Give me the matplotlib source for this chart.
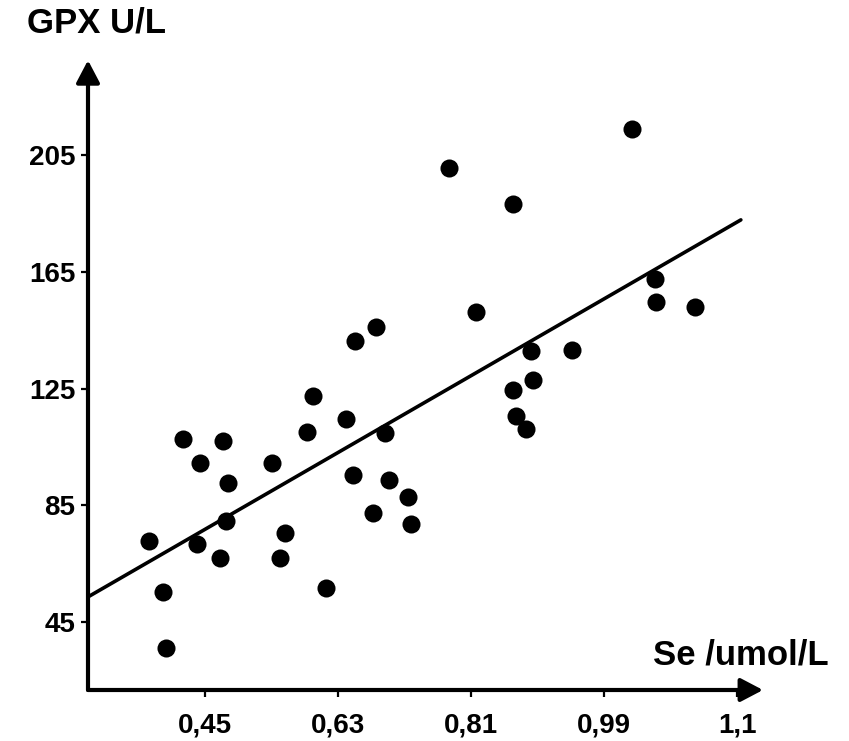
import numpy as np
import matplotlib.pyplot as plt

plt.rcParams['font.family'] = ['Liberation Sans', 'DejaVu Sans']
plt.rcParams['font.weight'] = 'bold'

# Se (umol/L) and GPX (U/L)
se = [0.373, 0.393, 0.397, 0.419, 0.442, 0.474, 0.480, 0.478, 0.438, 0.470,
      0.540, 0.558, 0.551, 0.613, 0.596, 0.588, 0.641, 0.693, 0.650, 0.699,
      0.724, 0.677, 0.729, 0.780, 0.867, 1.028, 0.816, 0.681, 0.653, 1.059,
      1.060, 1.113, 0.891, 0.946, 0.894, 0.867, 0.871, 0.884]
gpx = [72.8, 55.3, 36.1, 107.7, 99.5, 107.0, 92.7, 79.6, 71.8, 67.0,
       99.5, 75.5, 67.0, 56.7, 122.5, 110.1, 114.6, 109.8, 95.4, 93.7,
       87.9, 82.4, 78.6, 200.6, 188.2, 213.9, 151.2, 146.1, 141.3, 162.5,
       154.7, 153.0, 137.9, 138.2, 127.9, 124.5, 115.6, 111.2]

# regression line
fit_x = [0.291, 1.175]
fit_y = [53.6, 182.8]

x_ticks = [0.45, 0.63, 0.81, 0.99, 1.17]
x_labels = ['0,45', '0,63', '0,81', '0,99', '1,1']
y_ticks = [45, 85, 125, 165, 205]

x0, y0 = 0.291, 21.7

fig = plt.figure(figsize=(8.49, 7.41), dpi=100)
ax = fig.add_axes([88 / 849, 1 - 690 / 741, (780 - 88) / 849, (690 - 55) / 741])
ax.set_xlim(x0, 1.228)
ax.set_ylim(y0, 239.3)

ax.plot(se, gpx, 'o', color='black', markersize=13, markeredgewidth=0)
ax.plot(fit_x, fit_y, color='black', lw=2.6, solid_capstyle='round')

for s in ax.spines.values():
    s.set_visible(False)

# axes with arrow heads
arrow = dict(arrowstyle='-|>,head_length=0.8,head_width=0.42', lw=3, color='black',
             shrinkA=0, shrinkB=0, mutation_scale=17)
ax.annotate('', xy=(1.205, y0), xytext=(x0, y0), arrowprops=arrow, annotation_clip=False)
ax.annotate('', xy=(x0, 237.5), xytext=(x0, y0), arrowprops=arrow, annotation_clip=False)

ax.set_xticks(x_ticks)
ax.set_xticklabels(x_labels)
ax.set_yticks(y_ticks)
ax.tick_params(axis='both', direction='out', length=5, width=1.6, labelsize=20)
ax.tick_params(axis='x', pad=11)
ax.tick_params(axis='y', pad=4)

fig.text(27 / 849, 1 - 23 / 741, 'GPX U/L', fontsize=25, fontweight='bold',
         ha='left', va='center')
fig.text(741 / 849, 1 - 655 / 741, 'Se /umol/L', fontsize=25, fontweight='bold',
         ha='center', va='center')

fig.savefig('out.png', dpi=100)
